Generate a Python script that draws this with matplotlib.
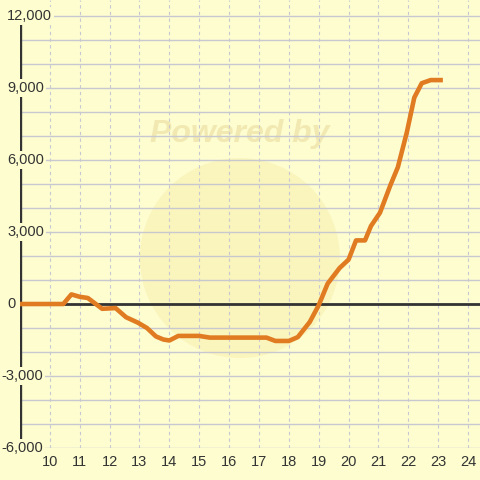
import matplotlib
matplotlib.use("Agg")
import matplotlib.pyplot as plt
import matplotlib.transforms as mtransforms
from matplotlib.patches import Ellipse

# data
hours = [9.0, 10.45, 10.72, 11.0, 11.27, 11.75, 12.2, 12.55, 12.95, 13.25, 13.55,
         13.8, 14.0, 14.3, 15.0, 15.35, 17.25, 17.55, 18.0, 18.3, 18.7, 19.0,
         19.3, 19.7, 20.0, 20.25, 20.55, 20.75, 21.05, 21.4, 21.65, 21.95,
         22.2, 22.45, 22.75, 23.08]
values = [0, 0, 400, 300, 250, -200, -170, -550, -780, -1000, -1350,
          -1480, -1520, -1330, -1330, -1400, -1400, -1540, -1540, -1380, -750, -50,
          850, 1500, 1850, 2650, 2650, 3250, 3800, 4950, 5700, 7150,
          8600, 9200, 9330, 9330]
x_ticks = list(range(10, 25))
y_ticks = [-6000, -3000, 0, 3000, 6000, 9000, 12000]
y_grid = list(range(-6000, 12001, 1000))

bg = "#fdfdd0"
text_col = "#333333"
plt.rcParams["font.family"] = ["Liberation Sans", "DejaVu Sans"]

fig = plt.figure(figsize=(4.8, 4.8), dpi=100, facecolor=bg)
ax = fig.add_axes([20 / 480, 32 / 480, 460 / 480, 448 / 480])
ax.set_facecolor(bg)
ax.set_xlim(9.0, 24.4)
ax.set_ylim(-6000, 12667)

# watermark
ax.add_patch(Ellipse((0.478, 0.424), 200 / 460, 200 / 448, transform=ax.transAxes,
                     facecolor="#f9eeaa", edgecolor="none", alpha=0.5, zorder=0))
ax.text(0.478, 0.70, "Powered by", transform=ax.transAxes, ha="center", va="center",
        fontsize=23, fontweight="bold", fontstyle="italic", color="#f2e9b2", zorder=0)

# grid
for v in y_grid:
    ax.axhline(v, color="#c8c8d0", lw=1.0, zorder=1)
for h in x_ticks:
    ax.axvline(h, color="#c8c8d0", lw=0.8, ls=(0, (3, 3)), zorder=1)

for s in ax.spines.values():
    s.set_visible(False)
ax.axvline(9.0, ymin=0, ymax=18000 / 18667, color=text_col, lw=2.4, zorder=3)
ax.axhline(0, color=text_col, lw=2.0, zorder=3)

ax.plot(hours, values, color="#e07b22", lw=3.3, zorder=5, solid_joinstyle="round")

ax.set_xticks(x_ticks)
ax.set_xticklabels([str(h) for h in x_ticks], fontsize=10.5, color=text_col)
ax.tick_params(axis="x", length=0, pad=5)
ax.set_yticks([])

trans = mtransforms.blended_transform_factory(fig.transFigure, ax.transData)
for v in y_ticks:
    if v < 0:
        xp, ha = 43 / 480, "right"
    else:
        xp, ha = 7 / 480, "left"
    ax.text(xp, v, f"{v:,}", transform=trans, ha=ha, va="center", fontsize=10.5,
            color=text_col, zorder=6, clip_on=False,
            bbox=dict(facecolor=bg, edgecolor="none", pad=1.5))

fig.savefig("out.png", dpi=100, facecolor=bg)
